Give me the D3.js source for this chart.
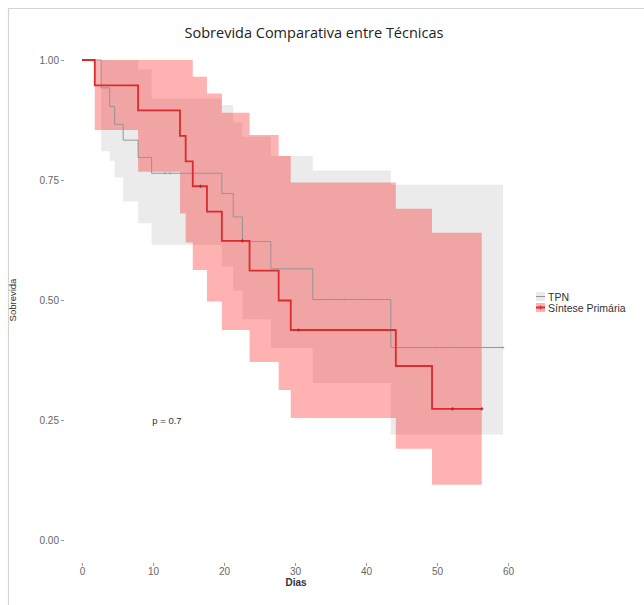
<!DOCTYPE html>
<html>
<head>
<meta charset="utf-8">
<script src="https://cdn.jsdelivr.net/npm/d3@7"></script>
<style>
  body { margin: 0; background: #fff; }
  svg { display: block; font-family: "Liberation Sans", Arial, sans-serif; }
</style>
</head>
<body>
<svg id="chart" width="644" height="605"></svg>
<script>
// curvas de sobrevida (tempo em dias)
var tpnTime  = [0, 2.7, 3.9, 4.6, 5.8, 7.9, 9.8, 19.7, 21.3, 22.6, 26.6, 32.5, 43.5];
var tpnSurv  = [1, 0.942, 0.903, 0.866, 0.833, 0.797, 0.764, 0.722, 0.673, 0.622, 0.565, 0.501, 0.401];
var tpnUpper = [1, 1, 1, 1, 1, 0.98, 0.92, 0.906, 0.87, 0.84, 0.80, 0.77, 0.74];
var tpnLower = [1, 0.81, 0.79, 0.755, 0.705, 0.66, 0.615, 0.57, 0.52, 0.46, 0.40, 0.327, 0.22];
var tpnEnd = 59.3;
var tpnCensor = [11.7, 12.4, 34.8, 37.0, 39.2, 48.6, 49.8, 51.7, 59.3];

var spTime  = [0, 1.8, 7.9, 13.8, 14.6, 15.6, 17.6, 19.7, 23.6, 27.7, 29.4, 44.2, 49.3];
var spSurv  = [1, 0.947, 0.895, 0.842, 0.789, 0.737, 0.684, 0.623, 0.561, 0.499, 0.4375, 0.3625, 0.273];
var spUpper = [1, 1, 1, 1, 1, 0.965, 0.93, 0.89, 0.844, 0.80, 0.745, 0.69, 0.64];
var spLower = [1, 0.854, 0.767, 0.68, 0.62, 0.5625, 0.497, 0.4375, 0.371, 0.3125, 0.254, 0.19, 0.115];
var spEnd = 56.3;
var spCensor = [16.7, 22.6, 30.5, 52.2, 56.3];

var xTicks = [0, 10, 20, 30, 40, 50, 60];
var yTicks = [0, 0.25, 0.5, 0.75, 1];
var legendLabels = ["TPN", "S\u00edntese Prim\u00e1ria"];

var svg = d3.select('#chart');

// moldura clara da imagem original
svg.append('path')
  .attr('d', 'M8.5,605V8.5H644')
  .attr('fill', 'none')
  .attr('stroke', '#d4d4d4')
  .attr('stroke-width', 1.2);

var x = d3.scaleLinear().domain([0, 60]).range([82, 508]);
var y = d3.scaleLinear().domain([0, 1]).range([540, 60]);

function series(time, surv, lo, hi, end) {
  var pts = time.map(function(t, i) { return {t: t, s: surv[i], lo: lo[i], hi: hi[i]}; });
  var last = pts[pts.length - 1];
  pts.push({t: end, s: last.s, lo: last.lo, hi: last.hi});
  return pts;
}

function survAt(time, surv, t) {
  var i = d3.bisectRight(time, t) - 1;
  return surv[Math.max(0, i)];
}

var tpn = series(tpnTime, tpnSurv, tpnLower, tpnUpper, tpnEnd);
var sp = series(spTime, spSurv, spLower, spUpper, spEnd);

var band = d3.area()
  .curve(d3.curveStepAfter)
  .x(function(d) { return x(d.t); })
  .y0(function(d) { return y(d.lo); })
  .y1(function(d) { return y(d.hi); });

var line = d3.line()
  .curve(d3.curveStepAfter)
  .x(function(d) { return x(d.t); })
  .y(function(d) { return y(d.s); });

// faixas de confianca
svg.append('path').datum(tpn)
  .attr('d', band)
  .attr('fill', '#bebebe')
  .attr('fill-opacity', 0.3);

svg.append('path').datum(sp)
  .attr('d', band)
  .attr('fill', '#ff0000')
  .attr('fill-opacity', 0.3);

// curvas
svg.append('path').datum(tpn)
  .attr('d', line)
  .attr('fill', 'none')
  .attr('stroke', '#959595')
  .attr('stroke-width', 1);

svg.append('path').datum(sp)
  .attr('d', line)
  .attr('fill', 'none')
  .attr('stroke', '#dc2a2e')
  .attr('stroke-width', 1.8);

// marcas de censura
function censor(times, time, surv, color, sw, r) {
  svg.append('g').selectAll('path')
    .data(times)
    .join('path')
    .attr('d', function(t) {
      var cx = x(t), cy = y(survAt(time, surv, t));
      return 'M' + (cx - r) + ',' + cy + 'H' + (cx + r) + 'M' + cx + ',' + (cy - r) + 'V' + (cy + r);
    })
    .attr('stroke', color)
    .attr('stroke-width', sw);
}
censor(tpnCensor, tpnTime, tpnSurv, '#a0a0a0', 0.8, 1.3);
censor(spCensor, spTime, spSurv, '#c02024', 1.2, 1.6);

// eixos
var yAxis = svg.append('g')
  .attr('transform', 'translate(64,0)')
  .call(d3.axisLeft(y).tickValues(yTicks).tickSize(3).tickPadding(2).tickFormat(d3.format('.2f')));
yAxis.select('.domain').remove();
yAxis.selectAll('line').attr('stroke', '#999');
yAxis.selectAll('text').attr('fill', '#666').style('font-size', '10px');

var xAxis = svg.append('g')
  .attr('transform', 'translate(0,563)')
  .call(d3.axisBottom(x).tickValues(xTicks).tickSize(3).tickPadding(2));
xAxis.select('.domain').remove();
xAxis.selectAll('line').attr('stroke', '#999');
xAxis.selectAll('text').attr('fill', '#666').style('font-size', '10px');

svg.append('text')
  .attr('x', 296).attr('y', 586)
  .attr('text-anchor', 'middle')
  .attr('fill', '#333')
  .style('font-size', '10px')
  .style('font-weight', 'bold')
  .text('Dias');

svg.append('text')
  .attr('transform', 'translate(16,300) rotate(-90)')
  .attr('text-anchor', 'middle')
  .attr('fill', '#333')
  .style('font-size', '9.5px')
  .text('Sobrevida');

// titulo
svg.append('text')
  .attr('x', 314).attr('y', 38)
  .attr('text-anchor', 'middle')
  .attr('fill', '#222')
  .style('font-family', '"Open Sans", sans-serif')
  .style('font-size', '14.5px')
  .text('Sobrevida Comparativa entre T\u00e9cnicas');

// valor p
svg.append('text')
  .attr('x', 167).attr('y', 424)
  .attr('text-anchor', 'middle')
  .attr('fill', '#333')
  .style('font-size', '9.5px')
  .text('p = 0.7');

// legenda
var legend = svg.append('g').attr('transform', 'translate(536,292)');
var keyFill = ['#bebebe', '#ff0000'];
var keyLine = ['#959595', '#dc2a2e'];
legendLabels.forEach(function(lab, i) {
  var g = legend.append('g').attr('transform', 'translate(0,' + (i * 11) + ')');
  g.append('rect')
    .attr('x', 0).attr('y', 0).attr('width', 9).attr('height', 9)
    .attr('fill', keyFill[i]).attr('fill-opacity', 0.3);
  g.append('line')
    .attr('x1', 0).attr('x2', 9).attr('y1', 4.5).attr('y2', 4.5)
    .attr('stroke', keyLine[i]).attr('stroke-width', i ? 2 : 1);
  if (i) {
    g.append('path').attr('d', 'M4.5,2.5V6.5').attr('stroke', keyLine[i]).attr('stroke-width', 1.2);
  }
  g.append('text')
    .attr('x', 12).attr('y', 8.5)
    .attr('fill', '#333')
    .style('font-size', '10.5px')
    .text(lab);
});
</script>
</body>
</html>
